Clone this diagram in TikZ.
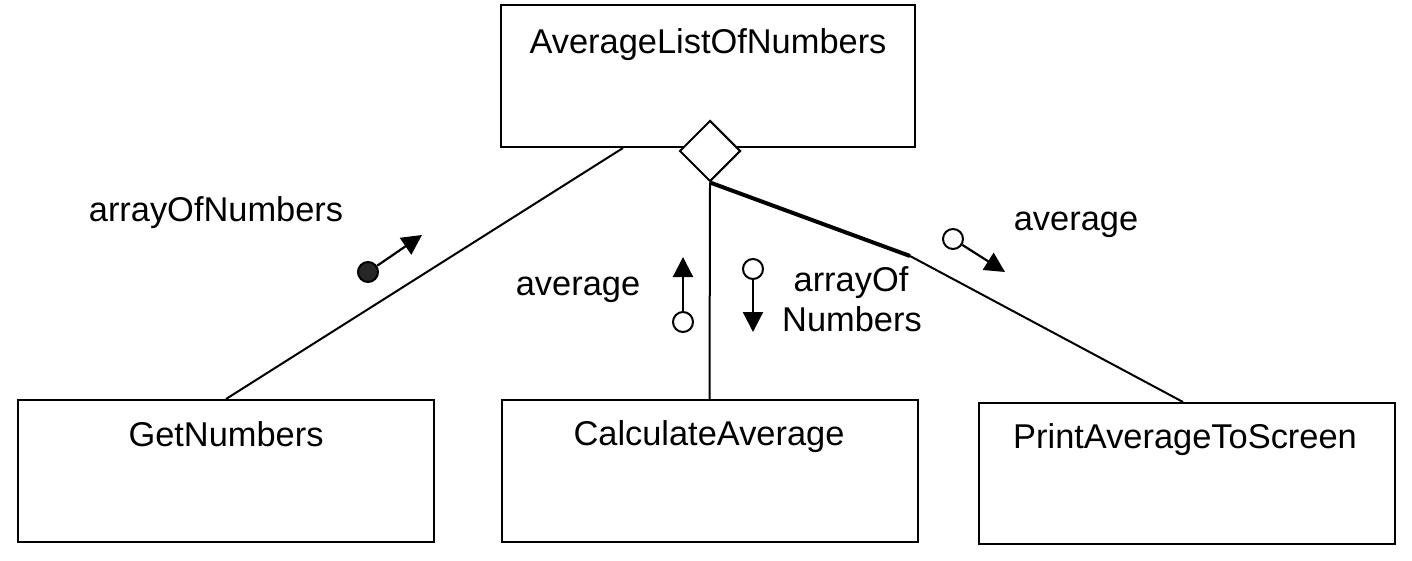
\documentclass[tikz,border=0pt]{standalone}
\usepackage{fontspec}
\setmainfont{Liberation Sans}
\usetikzlibrary{shapes.geometric,arrows.meta}
\begin{document}
\begin{tikzpicture}[x=0.5pt,y=-0.5pt,
  box/.style={draw,line width=1pt,minimum width=208pt,minimum height=71pt,inner sep=0pt},
  lbl/.style={font=\fontsize{17.2pt}{19pt}\selectfont,anchor=base,inner sep=0pt},
  conn/.style={line width=1pt},
  thickconn/.style={line width=2pt},
  flow/.style={line width=1.1pt,-{Triangle[width=10pt,length=10pt]}},
  dot/.style={circle,draw,line width=1pt,minimum size=10pt,inner sep=0pt,fill=white},
  fulldot/.style={dot,fill=black!85}
]
\useasboundingbox (0,0) rectangle (1412,561);

% boxes
\node[box,minimum width=207pt] (top) at (708,76) {};
\node[box] (gn) at (226,471) {};
\node[box] (ca) at (709.5,471) {};
\node[box,minimum height=70.5pt] (pa) at (1186.5,473.5) {};

% box texts
\node[lbl] (toptxt) at (708,54) {AverageListOfNumbers};
\node[lbl] (gntxt) at (226,446) {GetNumbers};
\node[lbl] (catxt) at (709,445) {CalculateAverage};
\node[lbl] (patxt) at (1185,448) {PrintAverageToScreen};

% connectors
\draw[conn] ([xshift=-42.5pt]top.south) -- (gn.north);
\node[diamond,draw,line width=1pt,fill=white,minimum width=30.5pt,minimum height=30.5pt,inner sep=0pt] (dia) at (710,151) {};
\draw[conn] (dia.south) -- (ca.north);
\coordinate (bend) at (910,256);
\draw[thickconn] (dia.south) -- (bend);
\draw[conn] (bend) -- ([xshift=-1.75pt]pa.north);

% data flows
\node[fulldot] (d1) at (368,272) {};
\coordinate (t1) at (422,235);
\draw[flow] (d1) -- (t1);

\node[dot] (d2) at (683,322) {};
\coordinate (t2) at (683,257);
\draw[flow] (d2) -- (t2);

\node[dot] (d3) at (753,269) {};
\coordinate (t3) at (753,332);
\draw[flow] (d3) -- (t3);

\node[dot] (d4) at (953,239) {};
\coordinate (t4) at (1005,272);
\draw[flow] (d4) -- (t4);

% flow labels
\node[lbl] (l1) at (216,221) {arrayOfNumbers};
\node[lbl] (l2) at (578,295) {average};
\node[lbl] (l3a) at (851,292) {arrayOf};
\node[lbl] (l3b) at (852,331) {Numbers};
\node[lbl] (l4) at (1076,231) {average};
\end{tikzpicture}
\end{document}
